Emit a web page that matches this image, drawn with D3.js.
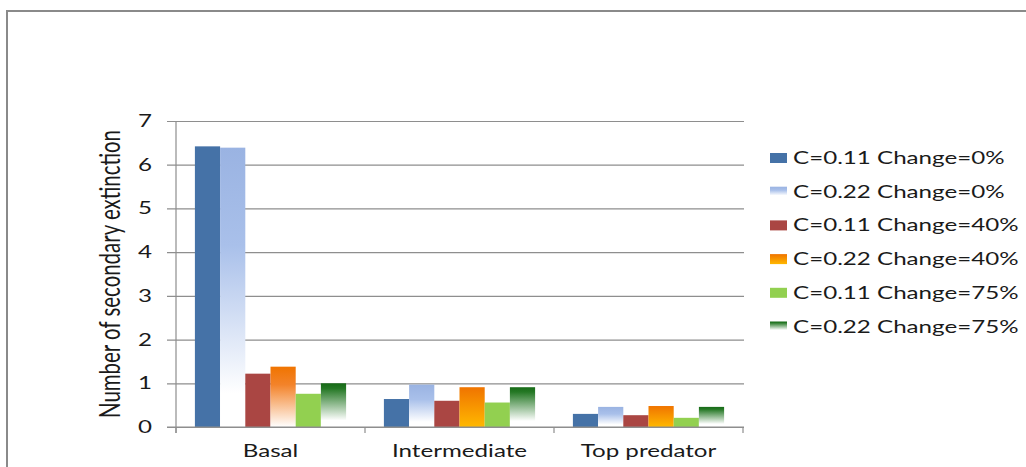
<!DOCTYPE html>
<html>
<head>
<meta charset="utf-8">
<script src="https://cdn.jsdelivr.net/npm/d3@7"></script>
<style>
  html, body { margin: 0; padding: 0; background: #fff; }
  svg { display: block; }
  text { font-family: Lato, "Open Sans", sans-serif; fill: #1a1a1a; }
</style>
</head>
<body>
<svg id="chart" width="1026" height="467"></svg>
<script>
// Trophic levels on the x axis
const categories = ["Basal", "Intermediate", "Top predator"];

// Series: connectance C and rewiring change
const seriesNames = [
  "C=0.11 Change=0%",
  "C=0.22 Change=0%",
  "C=0.11 Change=40%",
  "C=0.22 Change=40%",
  "C=0.11 Change=75%",
  "C=0.22 Change=75%"
];

// Number of secondary extinctions, one array per series (Basal, Intermediate, Top predator)
const c011change0  = [6.42, 0.64, 0.30];
const c022change0  = [6.39, 0.97, 0.46];
const c011change40 = [1.22, 0.60, 0.27];
const c022change40 = [1.38, 0.91, 0.48];
const c011change75 = [0.76, 0.56, 0.21];
const c022change75 = [1.00, 0.91, 0.46];
const seriesValues = [c011change0, c022change0, c011change40, c022change40, c011change75, c022change75];

const yTicks = [0, 1, 2, 3, 4, 5, 6, 7];

// ---- layout ----
const svg = d3.select("#chart");
const plot = { left: 176, right: 743, top: 121, bottom: 427 };
const STRETCH = 1.42;           // horizontal widening of all horizontal text
const gridColor = "#8e8e8e";

// Fill styles per series: solid or vertical gradient
const fills = [
  { solid: "#4572A7" },
  { stops: [[0, "#9AB3E2"], [0.35, "#A9C0EA"], [0.88, "#FFFFFF"], [1, "#FFFFFF"]] },
  { solid: "#AA4643" },
  { stops: [[0, "#F07400"], [1, "#FFB800"]],
    basal: [[0, "#F07400"], [0.3, "#F3832A"], [1, "#FFFFFF"]] },
  { solid: "#92D050" },
  { stops: [[0, "#166A16"], [0.12, "#257825"], [0.85, "#FFFFFF"], [1, "#FFFFFF"]] }
];

const defs = svg.append("defs");
function gradient(id, stops) {
  const g = defs.append("linearGradient").attr("id", id)
    .attr("x1", 0).attr("y1", 0).attr("x2", 0).attr("y2", 1);
  stops.forEach(s => g.append("stop").attr("offset", s[0]).attr("stop-color", s[1]));
  return `url(#${id})`;
}
function fillFor(si, ci) {
  const f = fills[si];
  if (f.solid) return f.solid;
  if (ci === 0 && f.basal) return gradient(`g${si}_${ci}`, f.basal);
  return gradient(`g${si}_${ci}`, f.stops);
}

// Widen text horizontally to the chart's text proportions
function widen(sel) {
  sel.each(function () {
    const w = this.getComputedTextLength();
    d3.select(this).attr("textLength", w * STRETCH).attr("lengthAdjust", "spacingAndGlyphs");
  });
}

// Outer frame
svg.append("rect")
  .attr("x", 7).attr("y", 11).attr("width", 1040).attr("height", 480)
  .attr("fill", "none").attr("stroke", "#8a8a8a").attr("stroke-width", 2);

// Scales
const y = d3.scaleLinear().domain([0, 7]).range([plot.bottom, plot.top]);
const x0 = d3.scaleBand().domain(categories).range([plot.left, plot.right]).padding(0);
const x1 = d3.scaleBand().domain(d3.range(seriesNames.length))
  .range([x0.bandwidth() * 0.1, x0.bandwidth() * 0.9]).padding(0);

// Gridlines + y tick labels
const yAxis = svg.append("g")
  .attr("transform", `translate(${plot.left},0)`)
  .call(d3.axisLeft(y).tickValues(yTicks).tickSize(-(plot.right - plot.left + 1)).tickPadding(24).tickFormat(d3.format("d")));
yAxis.select(".domain").remove();
yAxis.selectAll(".tick line").attr("x1", -9).attr("stroke", gridColor).attr("stroke-width", 1.2);
yAxis.selectAll(".tick text").attr("font-size", 17).attr("fill", "#1a1a1a")
  .style("font-family", "Lato, sans-serif").call(widen);

// Vertical axis line
svg.append("line")
  .attr("x1", plot.left).attr("x2", plot.left)
  .attr("y1", plot.top).attr("y2", plot.bottom + 6)
  .attr("stroke", gridColor).attr("stroke-width", 1.2);

// Bars
const groups = svg.append("g").selectAll("g")
  .data(categories).join("g")
  .attr("transform", d => `translate(${x0(d)},0)`);
groups.selectAll("rect")
  .data((c, ci) => seriesValues.map((vals, si) => ({ si, ci, v: vals[ci] })))
  .join("rect")
  .attr("x", d => x1(d.si))
  .attr("width", x1.bandwidth())
  .attr("y", d => y(d.v))
  .attr("height", d => y(0) - y(d.v))
  .attr("fill", d => fillFor(d.si, d.ci));

// Category axis: baseline, boundary ticks, labels
svg.append("line")
  .attr("x1", plot.left - 9).attr("x2", plot.right + 1)
  .attr("y1", plot.bottom).attr("y2", plot.bottom)
  .attr("stroke", gridColor).attr("stroke-width", 1.2);
const bounds = categories.map(c => x0(c)).concat([x0(categories[categories.length - 1]) + x0.bandwidth()]);
svg.append("g").selectAll("line").data(bounds).join("line")
  .attr("x1", d => d).attr("x2", d => d)
  .attr("y1", plot.bottom).attr("y2", plot.bottom + 6)
  .attr("stroke", gridColor).attr("stroke-width", 1.2);

const xAxis = svg.append("g")
  .attr("transform", `translate(0,${plot.bottom})`)
  .call(d3.axisBottom(x0).tickSize(0).tickPadding(0));
xAxis.select(".domain").remove();
xAxis.selectAll(".tick text")
  .attr("y", 30).attr("dy", 0)
  .attr("font-size", 17).attr("fill", "#1a1a1a")
  .style("font-family", "Lato, sans-serif").call(widen);

// Y axis title (rotated; glyphs thickened across the text direction)
svg.append("text")
  .attr("transform", "translate(120,274) scale(1.4,1) rotate(-90)")
  .attr("text-anchor", "middle")
  .attr("font-size", 21)
  .text("Number of secondary extinction")
  .each(function () {
    d3.select(this).attr("textLength", 288).attr("lengthAdjust", "spacingAndGlyphs");
  });

// Legend
const legend = svg.append("g").attr("transform", "translate(770,153)");
const rows = legend.selectAll("g").data(seriesNames).join("g")
  .attr("transform", (d, i) => `translate(0,${i * 33.7})`);
rows.append("rect")
  .attr("width", 17).attr("height", 10)
  .attr("fill", (d, i) => fillFor(i, 1));
rows.append("text")
  .attr("x", 23).attr("y", 11)
  .attr("font-size", 17)
  .text(d => d)
  .call(widen);
</script>
</body>
</html>
